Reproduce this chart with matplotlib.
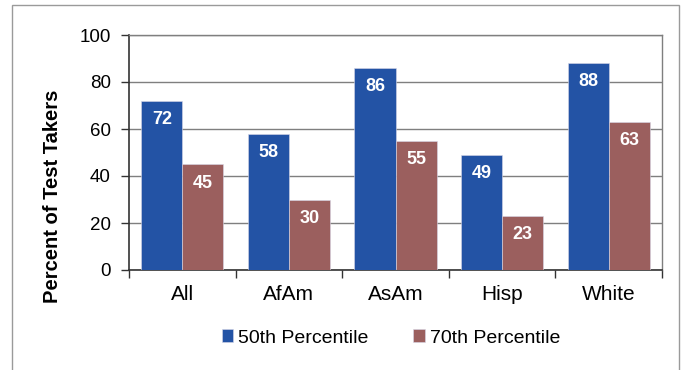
import matplotlib
matplotlib.use("Agg")
import matplotlib.pyplot as plt
from matplotlib.patches import Rectangle
from matplotlib.ticker import FixedLocator
import numpy as np

plt.rcParams['font.family'] = ['Liberation Sans', 'DejaVu Sans']

categories = ["All", "AfAm", "AsAm", "Hisp", "White"]
p50 = [72, 58, 86, 49, 88]
p70 = [45, 30, 55, 23, 63]
series_names = ["50th Percentile", "70th Percentile"]
colors = ["#2353A5", "#9B5F5E"]

W, H = 685, 370
fig = plt.figure(figsize=(W / 100, H / 100), dpi=100)
ax = fig.add_axes([129 / W, 1 - 270 / H, (662 - 129) / W, (270 - 35) / H])

# outer frame around the whole chart
fig.patches.append(Rectangle((12 / W, -0.05), (679 - 12) / W, 1 - 5 / H + 0.05,
                             transform=fig.transFigure, fill=False,
                             edgecolor="#9a9a9a", linewidth=1.0))

x = np.arange(len(categories))
bw = 0.385
bars = []
for i, (vals, name, col) in enumerate(zip([p50, p70], series_names, colors)):
    b = ax.bar(x + (i - 0.5) * bw, vals, width=bw, color=col, label=name,
               edgecolor="#d8d8e8", linewidth=0.4, zorder=3)
    bars.append(b)
    for rect, v in zip(b, vals):
        ax.annotate(f"{v}", (rect.get_x() + rect.get_width() / 2, v),
                    xytext=(0, -13.5), textcoords="offset points",
                    ha="center", va="center", color="white",
                    fontsize=13, fontweight="bold", zorder=4)

ax.set_xlim(-0.5, len(categories) - 0.5)
ax.set_ylim(0, 100)
ax.set_yticks(range(0, 101, 20))
ax.yaxis.grid(True, color="#7f7f7f", linewidth=1.0, zorder=0)
ax.set_axisbelow(True)

ax.set_xticks(x)
ax.set_xticklabels(categories, fontsize=15)
ax.tick_params(axis="x", which="major", length=0, pad=11)
ax.xaxis.set_minor_locator(FixedLocator(np.arange(-0.5, len(categories), 1.0)))
ax.tick_params(axis="x", which="minor", length=6, width=1, color="#333333")
ax.tick_params(axis="y", labelsize=13.5, length=6, width=1, color="#333333", pad=7)

for s in ["left", "bottom"]:
    ax.spines[s].set_color("#333333")
    ax.spines[s].set_linewidth(1.2)
for s in ["top", "right"]:
    ax.spines[s].set_color("#7f7f7f")
    ax.spines[s].set_linewidth(1.0)

ax.set_ylabel("Percent of Test Takers", fontsize=14.5, fontweight="bold")
ax.yaxis.set_label_coords((62 - 129) / (662 - 129), (270 - 196) / (270 - 35))

fig.legend(handles=bars, labels=series_names, loc="center",
           bbox_to_anchor=(391 / W, 1 - 338 / H), ncol=2, frameon=False,
           fontsize=14, handlelength=0.6, handleheight=0.6,
           handletextpad=0.25, columnspacing=2.3)

fig.savefig("out.png", dpi=100)
